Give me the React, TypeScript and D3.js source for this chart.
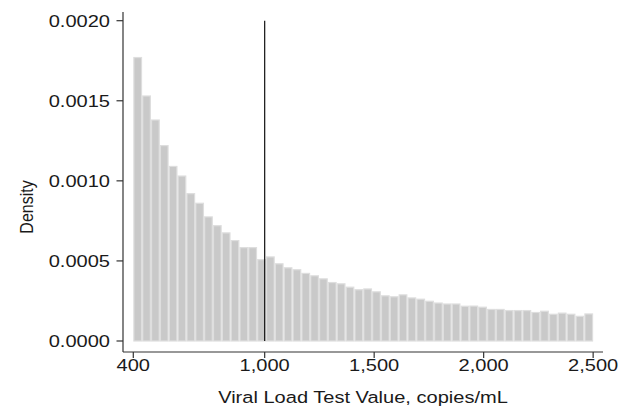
import React from 'react';
import * as d3 from 'd3';

// histogram bins: 52 equal bins from 400 to 2,500 copies/mL
const binStart = 400;
const binEnd = 2500;
const densities = [
  0.00177, 0.00153, 0.00138, 0.00122, 0.00109, 0.00103, 0.00092, 0.00086,
  0.000775, 0.00072, 0.000675, 0.000627, 0.000583, 0.000583, 0.000508, 0.000525,
  0.000482, 0.000457, 0.000445, 0.000422, 0.000407, 0.000388, 0.000365, 0.000357,
  0.000336, 0.00032, 0.000325, 0.000307, 0.000282, 0.000276, 0.000288, 0.000269,
  0.000261, 0.000248, 0.000237, 0.000231, 0.000231, 0.000217, 0.000218, 0.000211,
  0.000197, 0.000197, 0.00019, 0.00019, 0.00019, 0.000178, 0.000186, 0.000167,
  0.000174, 0.000167, 0.000154, 0.000169,
];
const xTicks = [400, 1000, 1500, 2000, 2500];
const xTickLabels = ['400', '1,000', '1,500', '2,000', '2,500'];
const yTicks = [0, 0.0005, 0.001, 0.0015, 0.002];
const cutoff = 1000;
const cutoffTop = 0.002;

const W = 619;
const H = 418;
const font = '"Liberation Sans", Arial, Helvetica, sans-serif';
const stretch = 1.18;
const textColor = '#1a1a1a';
const axisColor = '#333';

export default function App() {
  const x = d3.scaleLinear().domain([353, 2545]).range([123, 603]);
  const y = d3.scaleLinear().domain([-0.0000687, 0.0020543]).range([352, 12]);

  const binW = (binEnd - binStart) / densities.length;
  const bins = densities.map((d, i) => ({
    x0: binStart + i * binW,
    x1: binStart + (i + 1) * binW,
    d,
  }));

  const [xa, xb] = x.range();
  const [ya, yb] = y.range();

  return (
    <svg width={W} height={H} style={{ position: 'absolute', left: 0, top: 0, background: '#fff' }}>
      {/* bars */}
      <g>
        {bins.map((b, i) => (
          <rect
            key={i}
            x={x(b.x0) + 0.6}
            y={y(b.d)}
            width={x(b.x1) - x(b.x0) - 1.2}
            height={y(0) - y(b.d)}
            fill="#c9c9c9"
            stroke="#dedede"
            strokeWidth={1.2}
          />
        ))}
      </g>

      {/* cutoff line */}
      <line x1={x(cutoff)} x2={x(cutoff)} y1={y(0)} y2={y(cutoffTop)} stroke="#111" strokeWidth={1.2} />

      {/* y axis */}
      <line x1={xa} x2={xa} y1={ya} y2={yb} stroke={axisColor} strokeWidth={1.2} />
      {yTicks.map((t) => (
        <g key={t}>
          <line x1={xa - 6.5} x2={xa} y1={y(t)} y2={y(t)} stroke={axisColor} strokeWidth={1.2} />
          <text
            transform={`translate(110,${y(t)}) scale(${stretch},1)`}
            dy="0.36em"
            textAnchor="end"
            fontFamily={font}
            fontSize={17}
            fill={textColor}
          >
            {d3.format('.4f')(t)}
          </text>
        </g>
      ))}
      <text
        transform={`translate(33,207) scale(${stretch},1) rotate(-90)`}
        textAnchor="middle"
        fontFamily={font}
        fontSize={16}
        fill={textColor}
      >
        Density
      </text>

      {/* x axis */}
      <line x1={xa} x2={xb} y1={ya} y2={ya} stroke={axisColor} strokeWidth={1.2} />
      {xTicks.map((t, i) => (
        <g key={t}>
          <line x1={x(t)} x2={x(t)} y1={ya} y2={ya + 6} stroke={axisColor} strokeWidth={1.2} />
          <text
            transform={`translate(${x(t)},371) scale(${stretch},1)`}
            textAnchor="middle"
            fontFamily={font}
            fontSize={17}
            fill={textColor}
          >
            {xTickLabels[i]}
          </text>
        </g>
      ))}
      <text
        transform={`translate(${(xa + xb) / 2},403) scale(${stretch},1)`}
        textAnchor="middle"
        fontFamily={font}
        fontSize={17}
        fill={textColor}
      >
        Viral Load Test Value, copies/mL
      </text>
    </svg>
  );
}
